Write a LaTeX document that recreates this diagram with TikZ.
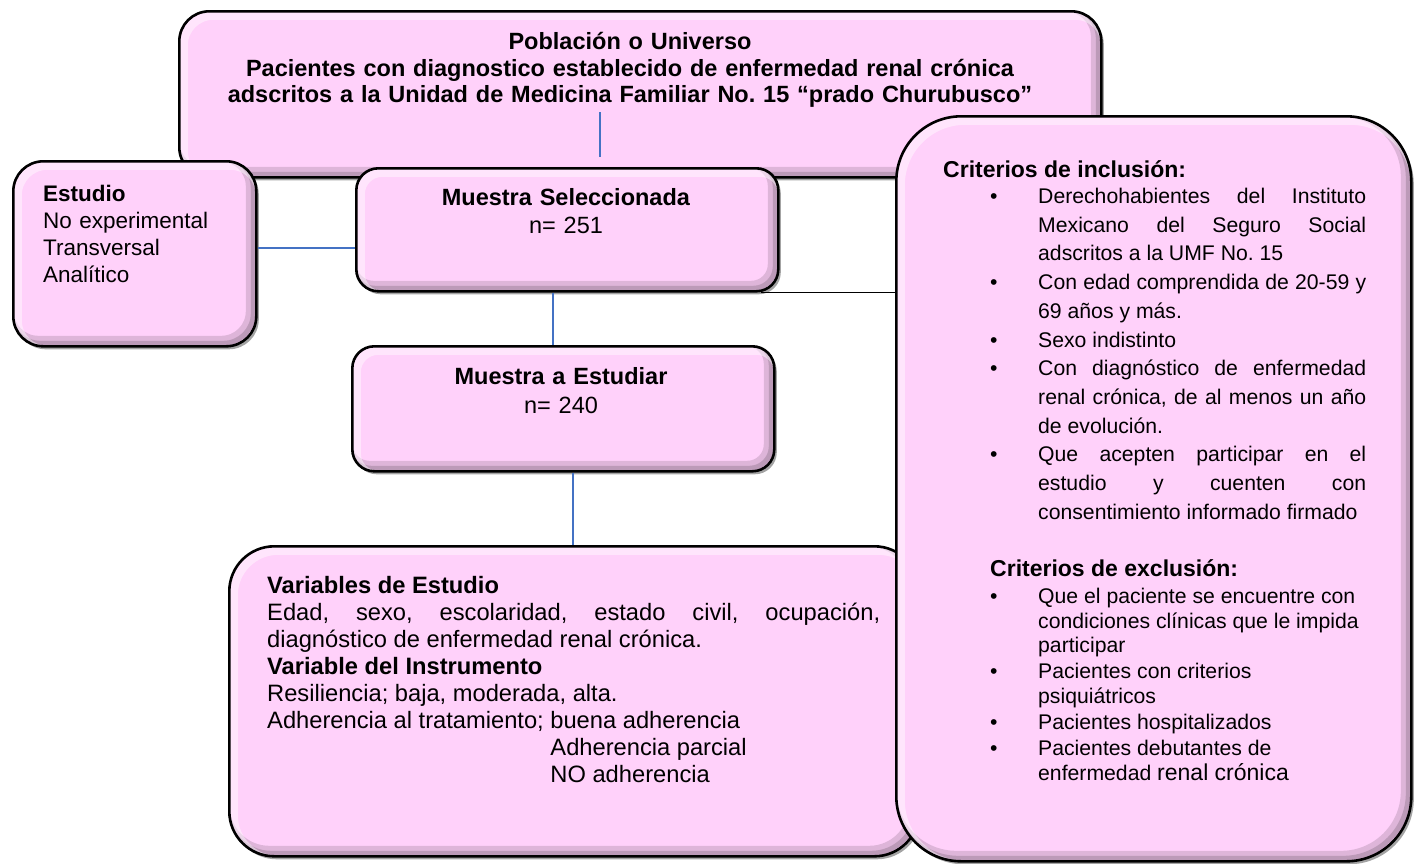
\documentclass[tikz,border=0pt]{standalone}
\usepackage{fontspec}
\setmainfont{Liberation Sans}
\usetikzlibrary{positioning,shadows}
\definecolor{rosa}{RGB}{255,209,250}
\definecolor{azul}{RGB}{68,114,196}
\hyphenpenalty=10000
\exhyphenpenalty=10000
\frenchspacing
% bullet item with hanging text
\newcommand{\vineta}[1]{\hangindent=48pt\hangafter=1\noindent\makebox[48pt][l]{\textbullet}#1\par}
\tikzset{
    %Define style for boxes (argument: corner radius)
    caja/.style={
           rectangle,
           rounded corners=#1,
           draw=black, line width=2.6pt,
           fill=rosa,
           anchor=north west,
           inner sep=0pt,
           drop shadow={shadow xshift=2.5pt, shadow yshift=-3pt, fill=black!60, opacity=.6},
           path picture={
               \draw[rounded corners=#1, line width=11pt, black, opacity=.13]
                   ([shift={(-5pt,5pt)}]path picture bounding box.north west) rectangle
                   ([shift={(-5pt,5pt)}]path picture bounding box.south east);
               \draw[rounded corners=#1, line width=5pt, black, opacity=.15]
                   ([shift={(-3pt,3pt)}]path picture bounding box.north west) rectangle
                   ([shift={(-3pt,3pt)}]path picture bounding box.south east);
               \draw[rounded corners=#1, line width=9pt, white, opacity=.45]
                   ([shift={(4pt,-4pt)}]path picture bounding box.north west) rectangle
                   ([shift={(4pt,-4pt)}]path picture bounding box.south east);
           }},
    %Define style for texts
    texto/.style={
           inner sep=0pt,
           anchor=base west},
    % Define line style
    linea/.style={
           draw=azul,
           line width=1.3pt}
}
\begin{document}
\begin{tikzpicture}[x=1pt,y=-1pt]
\useasboundingbox (0,0) rectangle (1417,863);

 %boxes
\node[caja=30pt, minimum width=922pt, minimum height=166pt] (1) at (178,10) {};
\node[caja=30pt, minimum width=243pt, minimum height=185pt] (2) at (12,160) {};
\node[caja=22pt, minimum width=422pt, minimum height=123pt] (3) at (355,167) {};
\node[caja=22pt, minimum width=422pt, minimum height=125pt] (4) at (351,345) {};
\node[caja=45pt, minimum width=690pt, minimum height=310pt] (5) at (228,545) {};
\node[caja=65pt, minimum width=515pt, minimum height=745pt] (6) at (895,115) {};

 %texts
\node[texto, anchor=base, text width=900pt, align=center, font=\fontsize{23.5}{26.7}\selectfont\bfseries] (1a) at (630,49.5)
    {Población o Universo\\ Pacientes con diagnostico establecido de enfermedad renal crónica\\ adscritos a la Unidad de Medicina Familiar No. 15 “prado Churubusco”};
\node[texto, text width=220pt, align=left, font=\fontsize{22.5}{27.3}\selectfont] (2a) at (43,201)
    {\textbf{Estudio}\\ No experimental\\ Transversal\\ Analítico};
\node[texto, anchor=base, text width=400pt, align=center, font=\fontsize{23.5}{28}\selectfont] (3a) at (566,205)
    {\textbf{Muestra Seleccionada}\\ n= 251};
\node[texto, anchor=base, text width=400pt, align=center, font=\fontsize{23.5}{29}\selectfont] (4a) at (561,384)
    {\textbf{Muestra a Estudiar}\\ n= 240};
\node[texto, text width=613pt, align=justify, font=\fontsize{23.7}{27}\selectfont] (5a) at (267,593)
    {\textbf{Variables de Estudio}\newline
     Edad, sexo, escolaridad, estado civil, ocupación,\linebreak diagnóstico de enfermedad renal crónica.\newline
     \textbf{Variable del Instrumento}\newline
     Resiliencia; baja, moderada, alta.\newline
     Adherencia al tratamiento; buena adherencia\newline
     \hphantom{Adherencia al tratamiento; }Adherencia parcial\newline
     \hphantom{Adherencia al tratamiento; }NO adherencia};
\node[texto, font=\fontsize{23}{28}\selectfont\bfseries] (6a) at (943,177) {Criterios de inclusión:};
\node[texto, text width=376pt, align=justify, font=\fontsize{21.2}{28.7}\selectfont] (6b) at (990,203.5)
    {\vineta{Derechohabientes del Instituto\linebreak Mexicano del Seguro Social\linebreak adscritos a la UMF No. 15}
     \vineta{Con edad comprendida de 20-59 y\linebreak 69 años y más.}
     \vineta{Sexo indistinto}
     \vineta{Con diagnóstico de enfermedad\linebreak renal crónica, de al menos un año\linebreak de evolución.}
     \vineta{Que acepten participar en el\linebreak estudio y cuenten con\linebreak consentimiento informado firmado}};
\node[texto, font=\fontsize{23}{28}\selectfont\bfseries] (6c) at (990,576) {Criterios de exclusión:};
\node[texto, text width=376pt, align=justify, font=\fontsize{21.2}{24.6}\selectfont, execute at begin node={\parskip=1.6pt}] (6d) at (990,603.5)
    {\vineta{Que el paciente se encuentre con\newline condiciones clínicas que le impida\newline participar}
     \vineta{Pacientes con criterios\newline psiquiátricos}
     \vineta{Pacientes hospitalizados}
     \vineta{Pacientes debutantes de\newline enfermedad {\fontsize{23}{24.6}\selectfont renal crónica}}};

 %lines
\coordinate (c1) at (600,112);
\coordinate (c2) at (600,157);
\coordinate (c3) at (300,248);
\coordinate (c4) at (553,0);
\coordinate (c5) at (573,0);
\coordinate (c6) at (761,0);
\path[linea]
    (c1) edge (c2)
    (2.east |- c3) edge (3.west |- c3)
    (3.south -| c4) edge (4.north -| c4)
    (4.south -| c5) edge (5.north -| c5);
\draw[line width=1.3pt] (3.south -| c6) -- (3.south -| 6.west);
\end{tikzpicture}
\end{document}
